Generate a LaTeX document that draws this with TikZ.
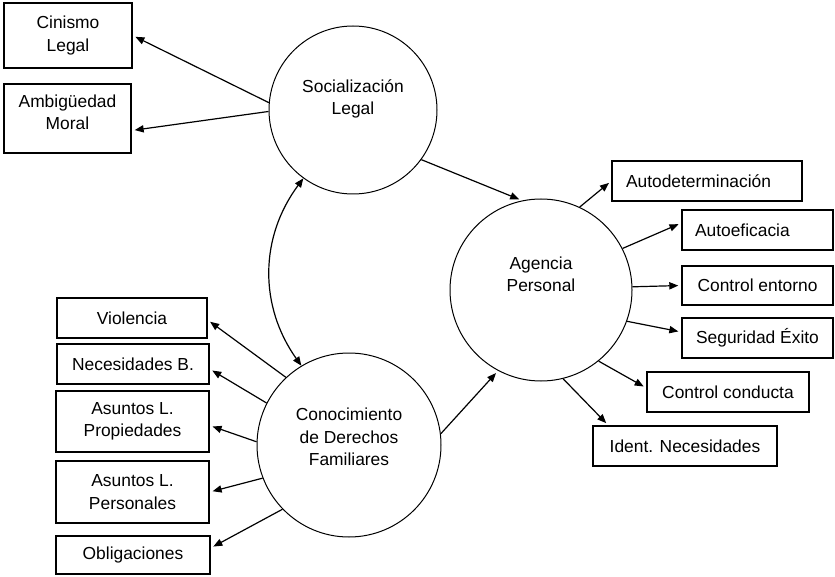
\documentclass[tikz,border=0pt]{standalone}
\usepackage{fontspec}
\setmainfont{Liberation Sans}
\usetikzlibrary{arrows.meta}
\tikzset{
  >={Triangle[length=4.5pt,width=3.6pt]},
  latent/.style={draw, circle, line width=0.5pt, inner sep=0pt},
  obsbox/.style={draw, rectangle, line width=0.7pt, inner sep=0pt, align=center},
  lbl/.style={align=center, inner sep=0pt},
  link/.style={->, line width=0.6pt, shorten >=1.5pt}
}

\begin{document}
\begin{tikzpicture}[x=0.5pt, y=-0.5pt, font=\fontsize{8.7}{11.2}\selectfont]
  \useasboundingbox (0,0) rectangle (835,577);

  % latent constructs
  \node[latent, minimum size=84pt] (soc) at (353,110) {};
  \node[lbl] (socLbl) at ([yshift=5.5pt]soc.center) {Socialización\\Legal};
  \node[latent, minimum size=91pt] (agencia) at (541,290) {};
  \node[lbl] (agenciaLbl) at ([yshift=8pt]agencia.center) {Agencia\\Personal};
  \node[latent, minimum size=92pt] (conoc) at (349,445) {};
  \node[lbl] (conocLbl) at ([yshift=4pt]conoc.center) {Conocimiento\\de Derechos\\Familiares};

  % indicators of Socializacion Legal
  \node[obsbox, minimum width=64pt, minimum height=32.5pt] (cinismo) at (68,35.5) {Cinismo\\Legal};
  \node[obsbox, minimum width=63.5pt, minimum height=34.5pt] (ambig) at (67.5,118.5) {};
  \node[lbl] (ambigLbl) at ([yshift=3pt]ambig.center) {Ambigüedad\\Moral};

  % indicators of Conocimiento
  \node[obsbox, minimum width=75pt, minimum height=20pt] (viol) at (132,318) {Violencia};
  \node[obsbox, minimum width=76pt, minimum height=20pt] (necB) at (133,364) {Necesidades B.};
  \node[obsbox, minimum width=76.5pt, minimum height=30.5pt] (prop) at (132.5,421.5) {Asuntos L.\\Propiedades};
  \node[obsbox, minimum width=76.5pt, minimum height=31pt] (pers) at (132.5,492) {Asuntos L.\\Personales};
  \node[obsbox, minimum width=77pt, minimum height=19pt] (oblig) at (133,555) {Obligaciones};

  % indicators of Agencia Personal
  \node[obsbox, align=left, inner xsep=7pt, text width=81pt, minimum height=20pt] (autodet) at (707,181) {Autodeterminación};
  \node[obsbox, align=left, inner xsep=6.5pt, text width=62.5pt, minimum height=20pt] (autoef) at (757.5,230) {Autoeficacia};
  \node[obsbox, minimum width=75.5pt, minimum height=19.5pt] (entorno) at (757.5,285.5) {Control entorno};
  \node[obsbox, minimum width=75.5pt, minimum height=20pt] (segur) at (757.5,338) {Seguridad Éxito};
  \node[obsbox, minimum width=81pt, minimum height=20pt] (conducta) at (728,392) {Control conducta};
  \node[obsbox, minimum width=92pt, minimum height=20pt] (ident) at (685,446) {Ident. Necesidades};

  % structural paths
  \draw[link] (soc.-36) -- (agencia.102);
  \draw[link] (conoc.7.5) -- (agencia.242);
  \draw[<->, line width=0.6pt] (soc.234) to[bend right=36] (conoc.121.5);

  % loadings
  \draw[link] (soc.175) -- (cinismo.east);
  \draw[link] (soc.181) -- ([yshift=-6pt]ambig.east);
  \draw[link] (conoc.133.7) -- ([yshift=-1pt]viol.east);
  \draw[link] (conoc.153.7) -- ([yshift=-2.5pt]necB.east);
  \draw[link] (conoc.178.7) -- ([yshift=-2pt]prop.east);
  \draw[link] (conoc.201) -- (pers.east);
  \draw[link] (conoc.224.6) -- ([yshift=3.5pt]oblig.east);
  \draw[link] (agencia.65.4) -- (autodet.west);
  \draw[link] (agencia.27.7) -- ([yshift=3.5pt]autoef.west);
  \draw[link] (agencia.2.5) -- (entorno.west);
  \draw[link] (agencia.-20.4) -- ([yshift=3pt]segur.west);
  \draw[link] (agencia.-51.6) -- ([yshift=2pt]conducta.west);
  \draw[link] (agencia.-76) -- ([xshift=8pt]ident.north west);
\end{tikzpicture}
\end{document}
